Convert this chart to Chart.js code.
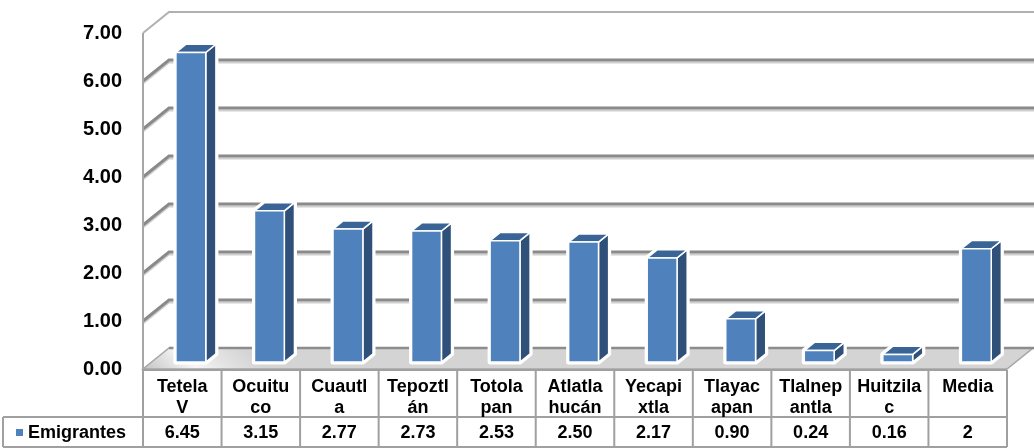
<!DOCTYPE html>
<html><head><meta charset="utf-8">
<script src="https://cdn.jsdelivr.net/npm/chart.js@4.4.1/dist/chart.umd.min.js"></script>
<style>html,body{margin:0;padding:0;background:#fff;overflow:hidden}#wrap{width:1034px;height:448px;position:relative}</style>
</head><body><div id="wrap"><canvas id="c" width="1034" height="448"></canvas></div>
<script>
const categories = ["Tetela V","Ocuituco","Cuautla","Tepoztlán","Totolapan","Atlatlahucán","Yecapixtla","Tlayacapan","Tlalnepantla","Huitzilac","Media"];
const categoryLines = [["Tetela","V"],["Ocuitu","co"],["Cuautl","a"],["Tepoztl","án"],["Totola","pan"],["Atlatla","hucán"],["Yecapi","xtla"],["Tlayac","apan"],["Tlalnep","antla"],["Huitzila","c"],["Media"]];
const seriesName = "Emigrantes";
const emigrantes = [6.45,3.15,2.77,2.73,2.53,2.50,2.17,0.90,0.24,0.16,2.36];
const tableLabels = ["6.45","3.15","2.77","2.73","2.53","2.50","2.17","0.90","0.24","0.16","2"];
const yMin = 0, yMax = 7, yStep = 1;

const DX = 26, DY = -21, F0 = 0.33, F1 = 0.72;
const FONT = '"Liberation Sans", Arial, sans-serif';

const threeD = {
  id: 'threeD',
  beforeDatasetsDraw(chart) {
    const {ctx, chartArea: a, scales: {x, y}} = chart;
    ctx.save();
    // floor
    const fy = y.getPixelForValue(0);
    const g = ctx.createLinearGradient(a.left, fy, a.left + 60, fy + DY - 40);
    g.addColorStop(0, '#c4c4c4');
    g.addColorStop(0.45, '#f6f6f6');
    g.addColorStop(0.7, '#e4e4e4');
    g.addColorStop(1, '#d4d4d4');
    ctx.fillStyle = g;
    ctx.beginPath();
    ctx.moveTo(a.left, fy); ctx.lineTo(a.right, fy);
    ctx.lineTo(a.right + DX, fy + DY); ctx.lineTo(a.left + DX, fy + DY);
    ctx.closePath(); ctx.fill();
    ctx.strokeStyle = '#a6a6a6'; ctx.lineWidth = 1.5; ctx.stroke();
    // back floor line
    ctx.strokeStyle = '#8c8c8c'; ctx.lineWidth = 2.5;
    ctx.beginPath(); ctx.moveTo(a.left + DX, fy + DY); ctx.lineTo(1040, fy + DY); ctx.stroke();

    // gridlines
    for (let v = yMin + yStep; v <= yMax; v += yStep) {
      const py = y.getPixelForValue(v);
      const top = v === yMax;
      ctx.lineCap = 'butt';
      if (!top) {
        ctx.strokeStyle = '#cfcfcf'; ctx.lineWidth = 2;
        ctx.beginPath();
        ctx.moveTo(a.left, py + 2.5); ctx.lineTo(a.left + DX, py + DY + 2.5);
        ctx.lineTo(1040, py + DY + 2.5); ctx.stroke();
      }
      ctx.strokeStyle = top ? '#b0b0b0' : '#8a8a8a'; ctx.lineWidth = top ? 2 : 3;
      ctx.beginPath();
      ctx.moveTo(a.left, py); ctx.lineTo(a.left + DX, py + DY);
      ctx.lineTo(1040, py + DY); ctx.stroke();
    }
    // front-left vertical axis
    ctx.strokeStyle = '#a6a6a6'; ctx.lineWidth = 2;
    ctx.beginPath(); ctx.moveTo(a.left, y.getPixelForValue(yMax)); ctx.lineTo(a.left, fy + 1); ctx.stroke();

    // bars
    const meta = chart.getDatasetMeta(0);
    const ddx = (F1 - F0) * DX, ddy = (F1 - F0) * DY;
    meta.data.forEach((el) => {
      const p = el.getProps(['x', 'y', 'base', 'width'], true);
      const l = p.x - p.width / 2 + F0 * DX, r = l + p.width;
      const t = p.y + F0 * DY, b = p.base + F0 * DY;
      ctx.lineJoin = 'round'; ctx.strokeStyle = '#ffffff';
      const outline = () => { ctx.beginPath(); ctx.moveTo(l, b); ctx.lineTo(l, t); ctx.lineTo(l + ddx, t + ddy);
        ctx.lineTo(r + ddx, t + ddy); ctx.lineTo(r + ddx, b + ddy); ctx.lineTo(r, b); ctx.closePath(); };
      ctx.lineWidth = 5; outline(); ctx.stroke();
      ctx.lineWidth = 1.5;
      // side
      ctx.fillStyle = '#2f5079';
      ctx.beginPath(); ctx.moveTo(r, t); ctx.lineTo(r + ddx, t + ddy); ctx.lineTo(r + ddx, b + ddy); ctx.lineTo(r, b); ctx.closePath();
      ctx.fill(); ctx.stroke();
      // top
      ctx.fillStyle = '#3b6496';
      ctx.beginPath(); ctx.moveTo(l, t); ctx.lineTo(l + ddx, t + ddy); ctx.lineTo(r + ddx, t + ddy); ctx.lineTo(r, t); ctx.closePath();
      ctx.fill(); ctx.stroke();
      // front
      ctx.fillStyle = '#4f81bd';
      ctx.beginPath(); ctx.rect(l, t, r - l, b - t); ctx.fill(); ctx.stroke();
    });
    ctx.restore();
    return false;
  },
  afterDraw(chart) {
    const {ctx, chartArea: a, scales: {x}} = chart;
    const n = categories.length;
    const cw = (a.right - a.left) / n;
    const top = a.bottom + 1, mid = 417, bot = 447;
    ctx.save();
    ctx.strokeStyle = '#a0a0a0'; ctx.lineWidth = 2;
    ctx.beginPath();
    ctx.moveTo(a.left, top); ctx.lineTo(a.right, top);
    ctx.moveTo(3, mid); ctx.lineTo(a.right, mid);
    ctx.moveTo(3, bot); ctx.lineTo(a.right, bot);
    ctx.moveTo(3, mid); ctx.lineTo(3, bot);
    for (let i = 0; i <= n; i++) {
      const xx = a.left + i * cw;
      ctx.moveTo(xx, top); ctx.lineTo(xx, bot);
    }
    ctx.stroke();
    ctx.fillStyle = '#000'; ctx.textAlign = 'center'; ctx.textBaseline = 'middle';
    ctx.font = 'bold 18px ' + FONT;
    categoryLines.forEach((lines, i) => {
      const cx = x.getPixelForValue(i);
      lines.forEach((s, j) => ctx.fillText(s, cx, 387 + j * 21));
      ctx.fillText(tableLabels[i], cx, 433);
    });
    ctx.fillStyle = '#4f81bd'; ctx.fillRect(16, 429, 7, 7);
    ctx.fillStyle = '#000'; ctx.textAlign = 'left';
    ctx.fillText(seriesName, 28, 433);
    ctx.restore();
  }
};

new Chart(document.getElementById('c'), {
  type: 'bar',
  data: { labels: categories, datasets: [{ label: seriesName, data: emigrantes, backgroundColor: '#4f81bd',
    categoryPercentage: 1, barPercentage: 0.38 }] },
  options: {
    responsive: false, animation: false, devicePixelRatio: 1,
    layout: { padding: { left: 0, top: 22, right: 27, bottom: 79 } },
    plugins: { legend: { display: false }, tooltip: { enabled: false } },
    scales: {
      x: { display: false },
      y: { min: yMin, max: yMax, afterFit(s) { s.width = 143; },
        grid: { display: false, drawTicks: false }, border: { display: false },
        ticks: { stepSize: yStep, padding: 21, color: '#000', font: { family: FONT, size: 20, weight: 'bold' },
          callback: v => Number(v).toFixed(2) } }
    }
  },
  plugins: [threeD]
});
</script></body></html>
